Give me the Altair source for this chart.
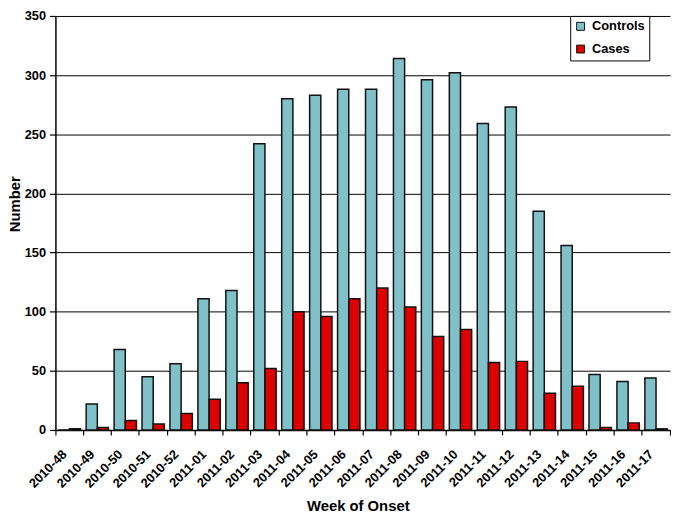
import altair as alt
import pandas as pd

weeks = ["2010-48", "2010-49", "2010-50", "2010-51", "2010-52",
         "2011-01", "2011-02", "2011-03", "2011-04", "2011-05", "2011-06",
         "2011-07", "2011-08", "2011-09", "2011-10", "2011-11", "2011-12",
         "2011-13", "2011-14", "2011-15", "2011-16", "2011-17"]
controls = [0, 22, 68, 45, 56, 111, 118, 242, 280, 283, 288,
            288, 314, 296, 302, 259, 273, 185, 156, 47, 41, 44]
cases = [1, 2, 8, 5, 14, 26, 40, 52, 100, 96, 111,
         120, 104, 79, 85, 57, 58, 31, 37, 2, 6, 1]
series = ["Controls", "Cases"]
colors = ["#80C0C8", "#DD0000"]
y_ticks = [0, 50, 100, 150, 200, 250, 300, 350]

rows = []
for w, v in zip(weeks, controls):
    rows.append({"week": w, "series": "Controls", "value": v})
for w, v in zip(weeks, cases):
    rows.append({"week": w, "series": "Cases", "value": v})
df = pd.DataFrame(rows)

FONT = "Liberation Sans"

chart = alt.Chart(df).mark_bar(stroke="#111111", strokeWidth=1.5).encode(
    x=alt.X(
        "week:N", sort=weeks,
        scale=alt.Scale(paddingInner=0, paddingOuter=0),
        axis=alt.Axis(
            title="Week of Onset", bandPosition=1, tickExtra=True,
            labelAngle=-45, labelAlign="right", labelBaseline="top",
            labelOffset=-9, labelPadding=13, tickSize=5,
            tickColor="#000000", domainColor="#000000", domainWidth=1.5,
            tickWidth=1.2,
            labelFont=FONT, labelFontSize=13, labelFontWeight="bold",
            labelColor="#000000",
            titleFont=FONT, titleFontSize=15, titleFontWeight="bold",
            titleColor="#000000", titleX=306, titleY=82,
            titleBaseline="alphabetic", titleAlign="center",
            grid=False,
        ),
    ),
    xOffset=alt.XOffset(
        "series:N", sort=series,
        scale=alt.Scale(domain=series, paddingOuter=0.25, paddingInner=0),
    ),
    y=alt.Y(
        "value:Q",
        scale=alt.Scale(domain=[0, 350], nice=False),
        axis=alt.Axis(
            title="Number", values=y_ticks, tickSize=6, labelPadding=4,
            tickColor="#000000", domainColor="#000000", domainWidth=1.5,
            tickWidth=1.2,
            grid=True, gridColor="#000000", gridWidth=1,
            labelFont=FONT, labelFontSize=13, labelFontWeight="bold",
            labelColor="#000000",
            titleFont=FONT, titleFontSize=15, titleFontWeight="bold",
            titleColor="#000000", titleX=-41, titleY=190,
            titleBaseline="middle", titleAlign="center",
        ),
    ),
    color=alt.Color(
        "series:N", sort=series,
        scale=alt.Scale(domain=series, range=colors),
        legend=alt.Legend(
            title=None, orient="none", legendX=521, legendY=0,
            direction="vertical", fillColor="#FFFFFF", strokeColor="#000000",
            padding=4, rowPadding=9, symbolType="square", symbolSize=64,
            symbolStrokeColor="#111111", symbolStrokeWidth=1,
            labelFont=FONT, labelFontSize=13, labelFontWeight="bold",
            labelColor="#000000", labelOffset=5,
        ),
    ),
).properties(
    width=622, height=419,
    padding={"left": 48, "top": 5, "right": 1, "bottom": 85},
    autosize="none",
).configure_view(stroke=None)

chart.save("out.html", embed_options={"renderer": "svg", "actions": False})
